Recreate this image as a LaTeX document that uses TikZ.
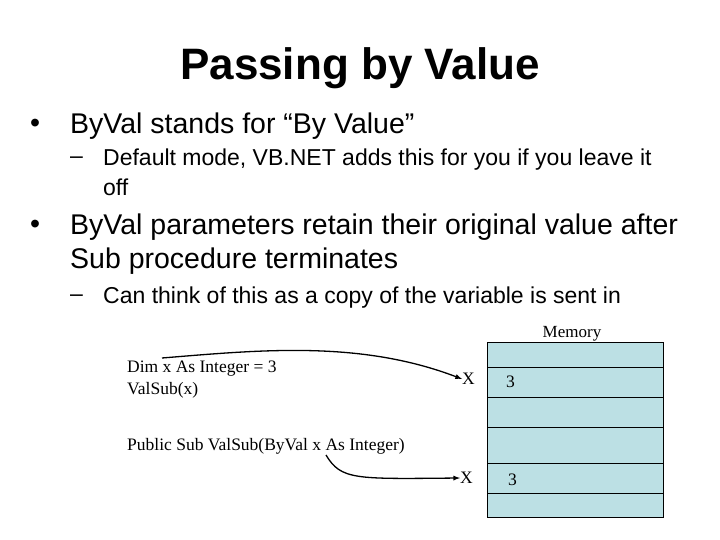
\documentclass[tikz,border=0pt]{standalone}
\usepackage{fontspec}
\setmainfont{Liberation Serif}
\newfontfamily\arial{Liberation Sans}
\begin{document}
\begin{tikzpicture}[x=1pt,y=-1pt,
  b1/.style={anchor=west,font=\arial\fontsize{28.5}{34}\selectfont,inner sep=0pt},
  b2/.style={anchor=west,font=\arial\fontsize{23}{28}\selectfont,inner sep=0pt},
  code/.style={anchor=west,font=\fontsize{17.5}{21}\selectfont,inner sep=0pt},
  arr/.style={-latex,line width=1.3pt}]
\useasboundingbox (0,0) rectangle (720,540);
\node[font=\arial\bfseries\fontsize{44}{52}\selectfont] (title) at (360,68) {Passing by Value};
\node[b1] (d1) at (30,126) {•};
\node[b1] (t1) at (70,126) {ByVal stands for “By Value”};
\node[b2] (d2) at (70,160) {–};
\node[b2] (t2) at (103,160) {Default mode, VB.NET adds this for you if you leave it};
\node[b2] (t2b) at (103,187) {off};
\node[b1] (d3) at (30,227) {•};
\node[b1] (t3) at (70,227) {ByVal parameters retain their original value after};
\node[b1] (t3b) at (70,261) {Sub procedure terminates};
\node[b2] (d4) at (70,298) {–};
\node[b2] (t4) at (103,298) {Can think of this as a copy of the variable is sent in};
\node[font=\fontsize{17}{20}\selectfont] (mem) at (572,334) {Memory};
\fill[fill={rgb,255:red,188;green,224;blue,228}] (487,342) rectangle (663,517);
\foreach \y in {367,397,427,463,493} \draw (487,\y) -- (663,\y);
\draw (487,342) rectangle (663,517);
\node[code] (c1) at (127,369) {Dim x As Integer = 3};
\node[code] (c2) at (127,390) {ValSub(x)};
\node[code] (c3) at (127,446) {Public Sub ValSub(ByVal x As Integer)};
\node[code] (x1) at (462,379) {X};
\node[code] (v1) at (506,382) {3};
\node[code] (x2) at (460,478) {X};
\node[code] (v2) at (508,480) {3};
\coordinate (s1) at (162,358);
\coordinate (s2) at (326,455);
\draw[arr] (s1) .. controls (260,350) and (360,340) .. (x1.west);
\draw[arr] (s2) .. controls (341,480) and (355,479) .. (x2.west);
\end{tikzpicture}
\end{document}
